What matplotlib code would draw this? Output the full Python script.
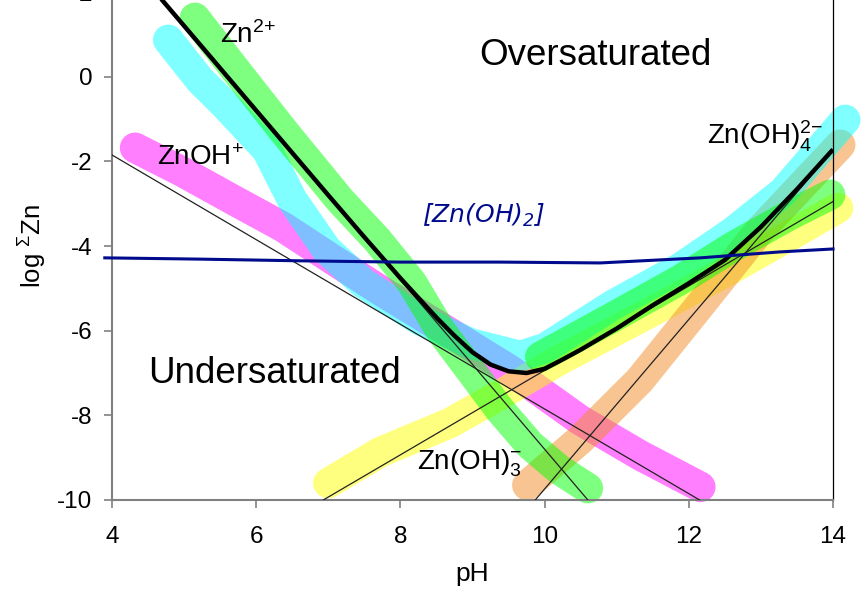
import matplotlib
matplotlib.use("Agg")
import matplotlib.pyplot as plt

plt.rcParams['font.family'] = ['Liberation Sans', 'DejaVu Sans']
plt.rcParams['axes.unicode_minus'] = False
plt.rcParams['mathtext.fontset'] = 'custom'
plt.rcParams['mathtext.rm'] = 'Liberation Sans'
plt.rcParams['mathtext.it'] = 'Liberation Sans:italic'
plt.rcParams['mathtext.default'] = 'regular'

# species lines (pH, log conc) - end points
zn2_ph, zn2_log = [4.5, 10.6], [2.2, -10.0]
znoh_ph, znoh_log = [4.0, 12.2], [-1.85, -10.05]
zn3_ph, zn3_log = [6.93, 14.0], [-10.0, -2.95]
zn4_ph, zn4_log = [9.87, 14.0], [-10.0, -1.73]

# total solubility curve
tot_ph = [4.6, 5.0, 5.5, 6.0, 6.5, 7.0, 7.5, 8.0, 8.5, 8.75, 9.0, 9.25, 9.5, 9.75, 10.0,
          10.25, 10.5, 11.0, 11.5, 12.0, 12.5, 13.0, 13.5, 14.0]
tot_log = [2.0, 1.2, 0.2, -0.8, -1.8, -2.8, -3.79, -4.76, -5.69, -6.12, -6.51, -6.80, -6.96, -7.0, -6.90,
           -6.68, -6.45, -5.95, -5.40, -4.88, -4.33, -3.55, -2.66, -1.72]

# highlighter strokes drawn over the chart
cyan_ph = [4.78, 5.22, 5.57, 6.15, 6.50, 6.98, 7.48, 8.27, 8.97, 9.66, 10.01, 10.95, 11.88, 12.61, 13.31, 14.17]
cyan_log = [0.87, -0.08, -0.67, -1.73, -2.91, -4.09, -4.87, -5.75, -6.30, -6.60, -6.41, -5.39, -4.52, -3.67, -2.72, -1.02]
green_ph = [5.15, 5.68, 6.40, 7.16, 7.68, 8.16, 8.55, 8.97, 9.38, 9.80, 10.21, 10.60]
green_log = [1.39, 0.23, -1.33, -2.91, -3.86, -4.87, -5.98, -6.93, -7.87, -8.70, -9.29, -9.72]
green2_ph = [9.94, 10.95, 11.88, 12.61, 13.40, 13.96]
green2_log = [-6.62, -5.68, -4.80, -4.02, -3.27, -2.79]
magenta_ph = [4.32, 4.98, 5.68, 6.37, 7.07, 7.76, 8.55, 9.52, 10.49, 11.32, 12.16]
magenta_log = [-1.68, -2.25, -2.91, -3.55, -4.33, -5.09, -5.91, -6.93, -8.11, -8.94, -9.69]
yellow_ph = [7.00, 7.72, 8.69, 9.38, 10.21, 11.32, 12.61, 13.54, 14.07]
yellow_log = [-9.60, -8.87, -8.18, -7.52, -6.69, -5.70, -4.52, -3.62, -3.10]
orange_ph = [9.76, 10.49, 11.32, 12.16, 12.99, 14.10]
orange_log = [-9.65, -8.58, -7.17, -5.39, -3.62, -1.61]
blue_ph = [3.90, 5.22, 6.61, 7.99, 9.38, 10.77, 12.16, 13.26, 14.00]
blue_log = [-4.28, -4.31, -4.35, -4.38, -4.38, -4.40, -4.28, -4.14, -4.07]

fig = plt.figure(figsize=(8.61, 5.92), dpi=100)
ax = fig.add_axes([112/861, 92/592, 721/861, 508/592])

hl = dict(lw=22, alpha=0.5, solid_capstyle='round', solid_joinstyle='round', clip_on=False, zorder=1)
ax.plot(magenta_ph, magenta_log, color=(1, 0, 1), **hl)
ax.plot(yellow_ph, yellow_log, color=(1, 1, 0), **hl)
ax.plot(orange_ph, orange_log, color=(0.95, 0.55, 0.15), **hl)
ax.plot(cyan_ph, cyan_log, color=(0, 1, 1), **hl)
ax.plot(green_ph, green_log, color=(0, 1, 0), **hl)
ax.plot(green2_ph, green2_log, color=(0, 1, 0), **hl)

thin = dict(color='#222222', lw=0.9, zorder=3)
ax.plot(zn2_ph, zn2_log, **thin)
ax.plot(znoh_ph, znoh_log, **thin)
ax.plot(zn3_ph, zn3_log, **thin)
ax.plot(zn4_ph, zn4_log, **thin)
ax.plot(tot_ph, tot_log, color='black', lw=3.2, zorder=4, solid_capstyle='butt', solid_joinstyle='round')

ax.plot(blue_ph, blue_log, color='#000a8c', lw=2.2, clip_on=False, zorder=6)
ax.text(8.30, -3.27, '[Zn(OH)$_2$]', color='#000a8c', fontsize=18, style='italic',
        ha='left', va='center', family='DejaVu Sans', zorder=6)

lab = dict(fontsize=20, ha='left', va='baseline', zorder=5)
ax.text(5.5, 0.80, 'Zn$^{2{+}}$', **lab)
ax.text(4.62, -2.08, 'ZnOH$^{{+}}$', **lab)
ax.text(8.23, -9.29, 'Zn(OH)$_3^{{-}}$', **lab)
ax.text(12.25, -1.61, 'Zn(OH)$_4^{2{-}}$', **lab)
ax.text(9.10, 0.28, 'Oversaturated', fontsize=26.5, ha='left', va='baseline')
ax.text(4.5, -7.23, 'Undersaturated', fontsize=26.5, ha='left', va='baseline')

ax.set_xlim(4, 14)
ax.set_ylim(-10, 2)
ax.set_xticks([4, 6, 8, 10, 12, 14])
ax.set_yticks([-10, -8, -6, -4, -2, 0, 2])
ax.tick_params(axis='both', direction='out', length=6, width=1.2, color='#808080', labelsize=17.5)
ax.tick_params(axis='y', pad=8)
ax.tick_params(axis='x', pad=13)
for s in ['left', 'bottom']:
    ax.spines[s].set_color('#808080')
    ax.spines[s].set_linewidth(1.5)
ax.spines['right'].set_color('black')
ax.spines['right'].set_linewidth(0.9)
ax.spines['top'].set_visible(False)

ax.set_xlabel('pH', fontsize=19, labelpad=10)
ax.set_ylabel('log $^{\\Sigma}$Zn', fontsize=18.5, labelpad=6)

fig.savefig('out.png', dpi=100)
